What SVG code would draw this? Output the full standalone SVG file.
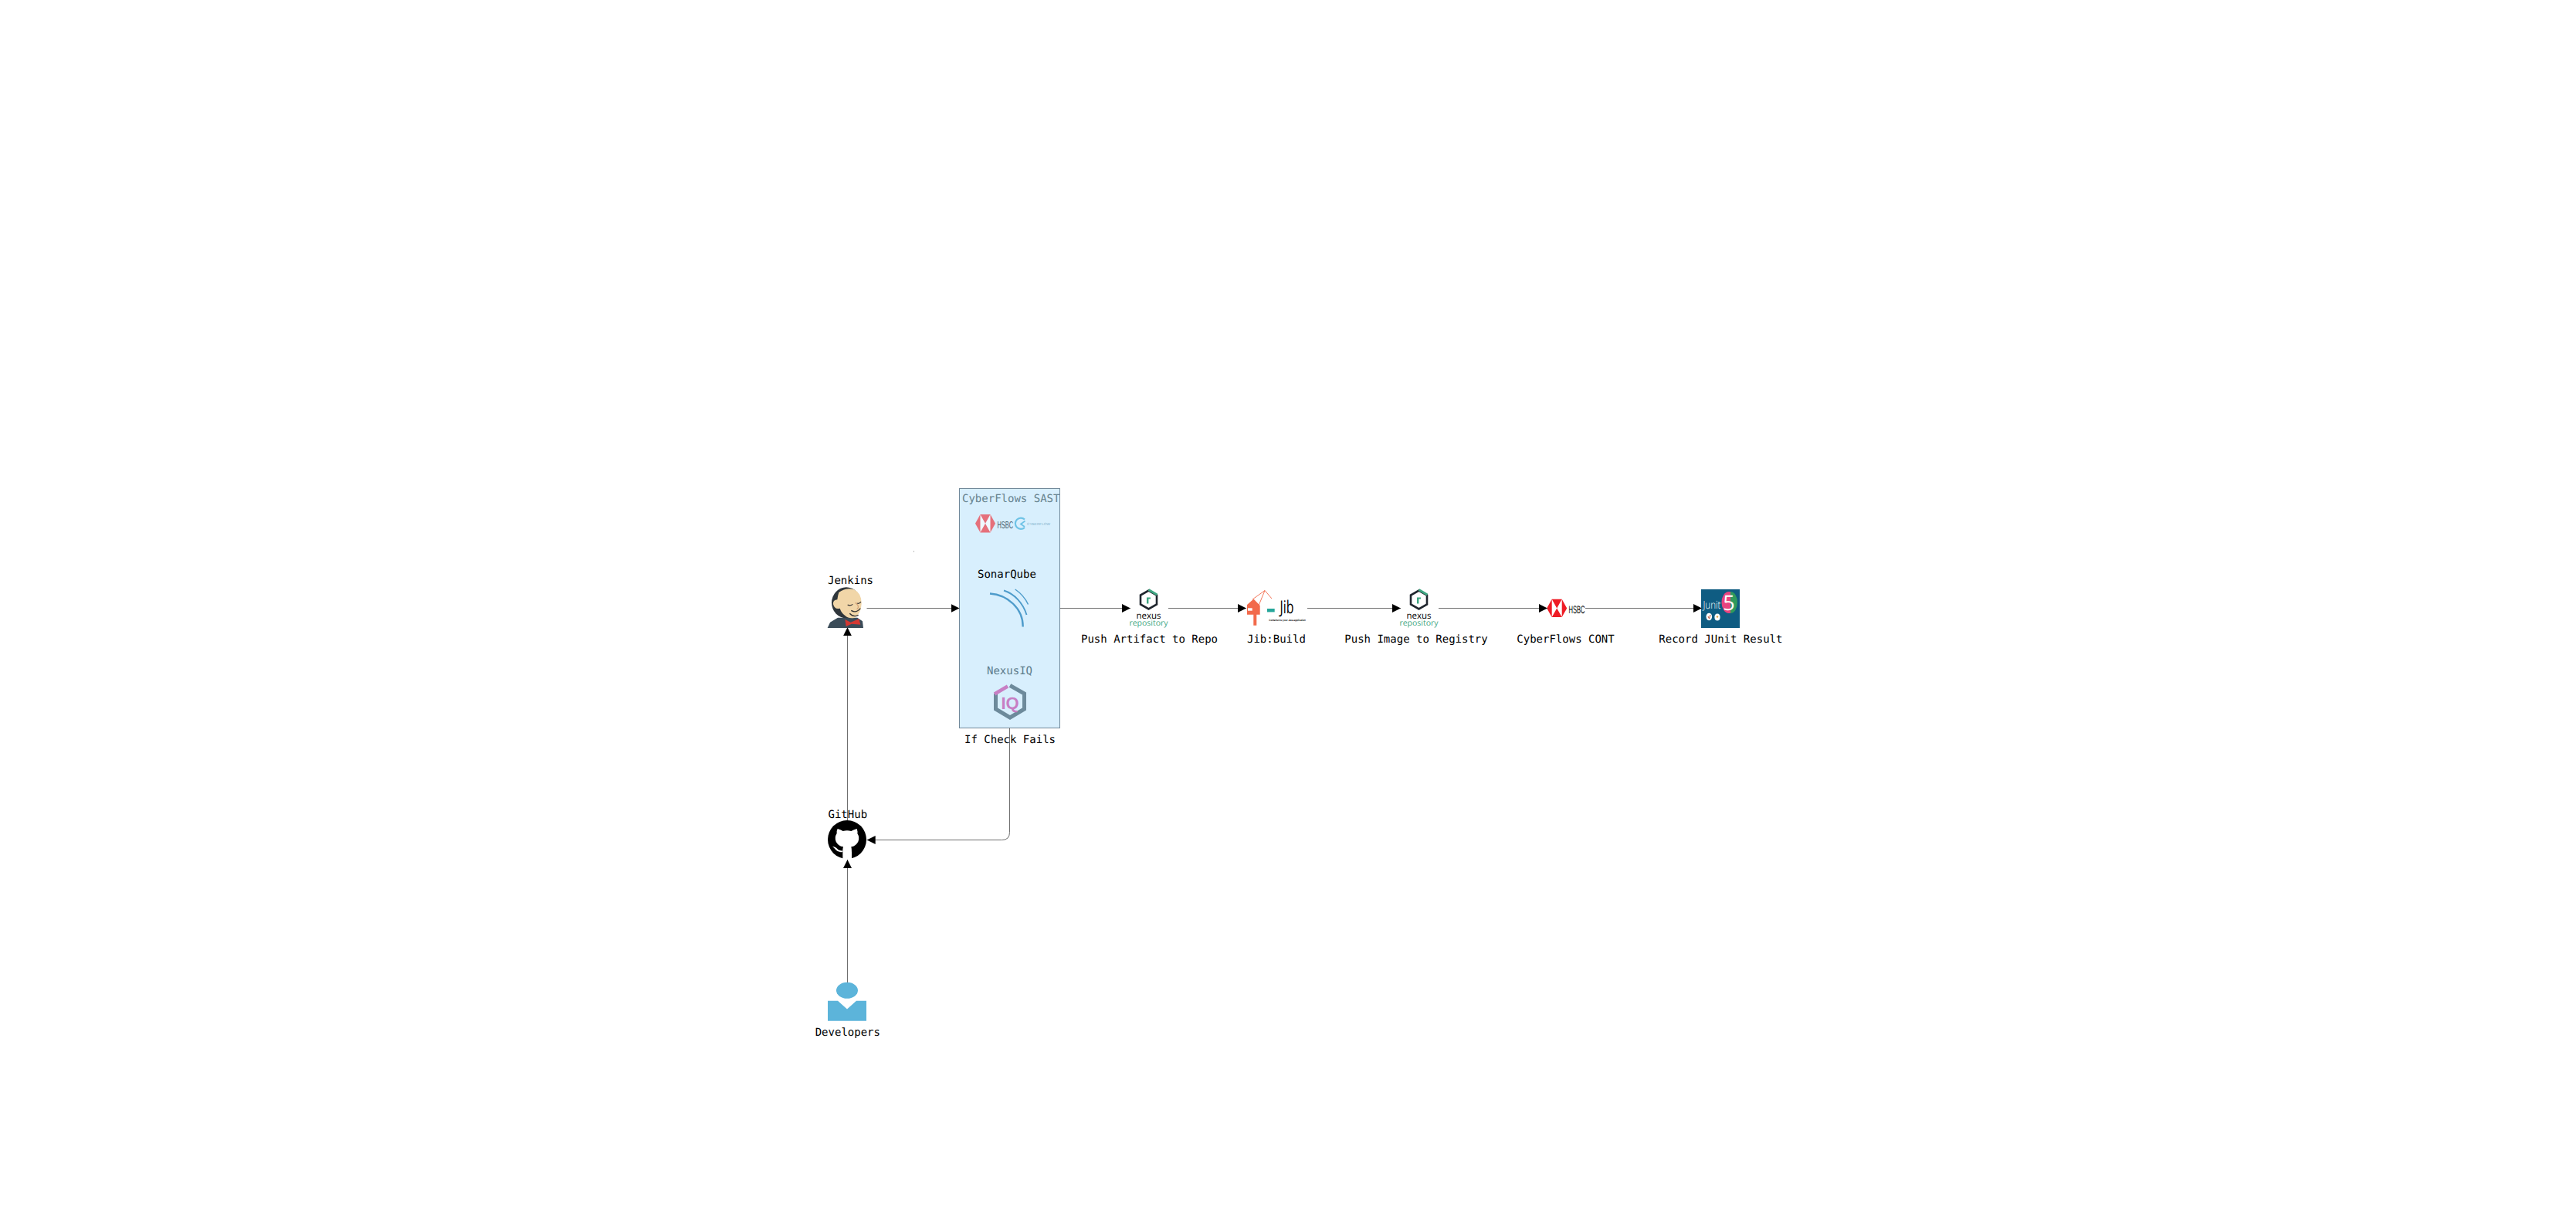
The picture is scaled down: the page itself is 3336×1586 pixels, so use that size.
<svg xmlns="http://www.w3.org/2000/svg" width="3336" height="1586" viewBox="0 0 3336 1586">
<style>
text{font-family:"DejaVu Sans Mono","Liberation Mono",monospace;font-size:14px;fill:#000;text-rendering:geometricPrecision}
.conn{fill:none;stroke:#6e6e6e;stroke-width:1}
</style>
<defs>
<marker id="arrow" markerUnits="userSpaceOnUse" markerWidth="12" markerHeight="12" refX="11" refY="5.5" orient="auto"><path d="M0,0L11,5.5L0,11Z" fill="#000"/></marker>
<g id="nexusLogo">
<path d="M12.5,2.5L23,8.5V20.5L12.5,26.5L2,20.5V8.5Z" fill="none" stroke="#20262e" stroke-width="2.6"/>
<path d="M12.5,1.5L23.5,8" fill="none" stroke="#3fa783" stroke-width="2.8"/>
<path d="M10,19.5V11.5H15V13.5H12.4V19.5Z" fill="#3fa783"/>
<text x="12.5" y="38.5" text-anchor="middle" style="font-size:11.5px;font-family:'Open Sans',sans-serif">nexus</text>
<text x="12.5" y="48" text-anchor="middle" style="font-size:10.5px;fill:#3fa783;font-family:'Open Sans',sans-serif">repository</text>
</g>
<g id="hsbcHex">
<path d="M0,11.7L6.5,0H19.5L26,11.7L19.5,23.4H6.5Z" fill="#ee1c25"/>
<path d="M6.5,0L13,11.7L6.5,23.4ZM19.5,0L13,11.7L19.5,23.4Z" fill="#fff"/>
</g>
</defs>
<rect width="3336" height="1586" fill="#fff"/>
<g transform="translate(0 -1)">
<rect x="1183" y="714" width="1" height="2" fill="#bbb"/>

<g id="cyberflows-sast">
<rect x="1242.5" y="633.5" width="130" height="310" fill="#d8effd" stroke="#72899a" stroke-width="1"/>
<text x="1246" y="651" style="fill:#67838f">CyberFlows SAST</text>
<use href="#hsbcHex" x="1263" y="667" opacity="0.6"/>
<text x="1291.5" y="685" style="font-family:'Liberation Sans Narrow','Liberation Sans',sans-serif;font-size:13px;fill:#46606e" textLength="20.5" lengthAdjust="spacingAndGlyphs">HSBC</text>
<path d="M1327,673.5A7.2,7.2,0,1,0,1327,684" fill="none" stroke="#6fc3e6" stroke-width="2.2"/>
<path d="M1327.5,675.5L1322,679.5L1327,683" fill="none" stroke="#6fc3e6" stroke-width="1.8"/>
<text x="1330" y="680.5" style="font-family:'Liberation Sans',sans-serif;font-size:4.5px;fill:#7fb0cc" textLength="30" lengthAdjust="spacingAndGlyphs">CYBERFLOW</text>
</g>
<g id="sonarqube">
<text x="1266" y="749">SonarQube</text>
<path d="M1282,769.5C1305,771,1325,789,1324.7,812.5" fill="none" stroke="#4f9ccb" stroke-width="2.4"/>
<path d="M1300,765.5C1314,770,1325,782,1329.5,797" fill="none" stroke="#4f9ccb" stroke-width="1.9"/>
<path d="M1314.7,764C1322,769,1328,776,1331.5,783.5" fill="none" stroke="#4f9ccb" stroke-width="1.5"/>
</g>
<g id="nexusiq">
<text x="1278" y="874" style="fill:#5d7c8c">NexusIQ</text>
<path d="M1289.5,899L1289.5,919L1308,930L1326.5,919V899L1308,888.5" fill="none" stroke="#6d8a9b" stroke-width="5"/>
<path d="M1288,899.5L1305,889.5" fill="none" stroke="#c77fc4" stroke-width="4.6"/>
<text x="1308" y="919" text-anchor="middle" style="font-family:'Liberation Sans',sans-serif;font-weight:700;font-size:22px;fill:#c77fc4">IQ</text>
<text x="1249" y="963">If Check Fails</text>
</g>

<g id="jenkins">
<text x="1072" y="757">Jenkins</text>
<g transform="translate(1067 758) scale(.3333)">
<path d="M14,168L24,146L54,128L130,128L150,142L153,168Z" fill="#3b4c59"/>
<ellipse cx="87" cy="70" rx="57" ry="60" fill="#2f363b"/>
<path d="M58,30Q85,10 115,18Q147,32 146,75Q144,112 120,128Q98,134 82,120Q68,110 62,92Q42,98 36,76Q34,60 52,58Q54,42 58,30Z" fill="#f1d6a8"/>
<path d="M92,78Q102,84 112,76M128,72Q138,76 144,66" fill="none" stroke="#333" stroke-width="3.5"/>
<path d="M106,100Q125,112 142,92M100,112Q115,128 134,118" fill="none" stroke="#333" stroke-width="4"/>
<path d="M122,70Q142,84 128,96" fill="none" stroke="#d5a67a" stroke-width="4"/>
<path d="M82,135L104,146L136,133L142,155L108,152L86,162Z" fill="#d33833"/>
</g>
</g>
<g id="github">
<text x="1072.5" y="1060">GitHub</text>
<circle cx="1097" cy="1088" r="25" fill="#000"/>
<g transform="translate(1067 1058) scale(.3333)">
<path d="M53,48Q68,52 74,57Q90,52 106,57Q114,52 128,48Q132,60 130,66Q140,82 133,98Q124,116 106,118Q108,125 108,140V168H73V136Q73,124 75,118Q56,116 47,98Q40,82 50,66Q48,58 53,48Z" fill="#fff"/>
<path d="M33,116Q50,120 56,130Q64,134 72,133V138Q55,141 46,130Q40,122 33,116Z" fill="#fff"/>
</g>
</g>
<g id="developers">
<ellipse cx="1097" cy="1283.3" rx="14" ry="10.5" fill="#5cb4da"/>
<path d="M1072,1296.7H1085L1097,1307.5L1109,1296.7H1122V1322.7H1072Z" fill="#5cb4da"/>
<text x="1055.7" y="1342">Developers</text>
</g>
<g id="nexus-artifact">
<use href="#nexusLogo" x="1475" y="763"/>
<text x="1400" y="833">Push Artifact to Repo</text>
</g>
<g id="jib">
<path d="M1615,784L1623.5,776.5L1631.7,785V796.7H1627.3V810.7H1623.3V796.7H1615Z" fill="#f26a4b"/>
<rect x="1616" y="788.3" width="5.7" height="3.4" fill="#fff"/>
<path d="M1622,777L1638,765.5L1647,776M1638,765.5L1630,785" fill="none" stroke="#f26a4b" stroke-width="0.9"/>
<rect x="1641" y="789" width="9.7" height="4.4" fill="#26a69a"/>
<text x="1657.5" y="795" style="font-family:'Open Sans',sans-serif;font-size:23px" textLength="18" lengthAdjust="spacingAndGlyphs">Jib</text>
<text x="1643.3" y="805" style="font-family:'Liberation Sans',sans-serif;font-size:3.4px;font-weight:700" textLength="47.5" lengthAdjust="spacingAndGlyphs">Containerize your Java application</text>
<text x="1615" y="833">Jib:Build</text>
</g>
<g id="nexus-image">
<use href="#nexusLogo" x="1825" y="763"/>
<text x="1741.3" y="833">Push Image to Registry</text>
</g>
<g id="cyberflows-cont">
<use href="#hsbcHex" x="2003.2" y="776.7"/>
<text x="2031.5" y="795" style="font-family:'Liberation Sans Narrow','Liberation Sans',sans-serif;font-size:14px" textLength="21" lengthAdjust="spacingAndGlyphs">HSBC</text>
<text x="1964.3" y="833">CyberFlows CONT</text>
</g>
<g id="junit">
<rect x="2203" y="764" width="50" height="50" fill="#0f5c82"/>
<ellipse cx="2239" cy="781" rx="9.5" ry="14" fill="#e8447f"/>
<path d="M2241,767A9,14,0,0,1,2241,795Z" fill="#2f9a5c"/>
<text x="2239" y="791" text-anchor="middle" style="font-family:'Open Sans',sans-serif;font-weight:400;font-size:27px;fill:#fff">5</text>
<text x="2205.5" y="789" style="font-family:'Open Sans',sans-serif;font-weight:300;font-size:14px;fill:#fff" textLength="23" lengthAdjust="spacingAndGlyphs">Junit</text>
<ellipse cx="2213.3" cy="799.5" rx="3.8" ry="4.8" fill="#fff"/>
<path d="M2212,799L2213.5,802L2215,797" fill="none" stroke="#c0482b" stroke-width="1"/>
<ellipse cx="2224" cy="800" rx="3.6" ry="4.5" fill="#fff"/>
<circle cx="2224" cy="799.5" r="1.2" fill="#e0a040"/>
<text x="2148.3" y="833">Record JUnit Result</text>
</g>

<g id="connectors">
<path class="conn" d="M1122.5,788.5H1242.5" marker-end="url(#arrow)"/>
<path class="conn" d="M1372.5,788.5H1464" marker-end="url(#arrow)"/>
<path class="conn" d="M1513,788.5H1614" marker-end="url(#arrow)"/>
<path class="conn" d="M1693,788.5H1814" marker-end="url(#arrow)"/>
<path class="conn" d="M1863,788.5H2004" marker-end="url(#arrow)"/>
<path class="conn" d="M2053,788.5H2204" marker-end="url(#arrow)"/>
<path class="conn" d="M1097.5,1063V813.3" marker-end="url(#arrow)"/>
<path class="conn" d="M1097.5,1273V1114" marker-end="url(#arrow)"/>
<path class="conn" d="M1307.5,943.5V1078.5Q1307.5,1088.5 1297.5,1088.5H1122.7" marker-end="url(#arrow)"/>
</g>
</g>
</svg>
